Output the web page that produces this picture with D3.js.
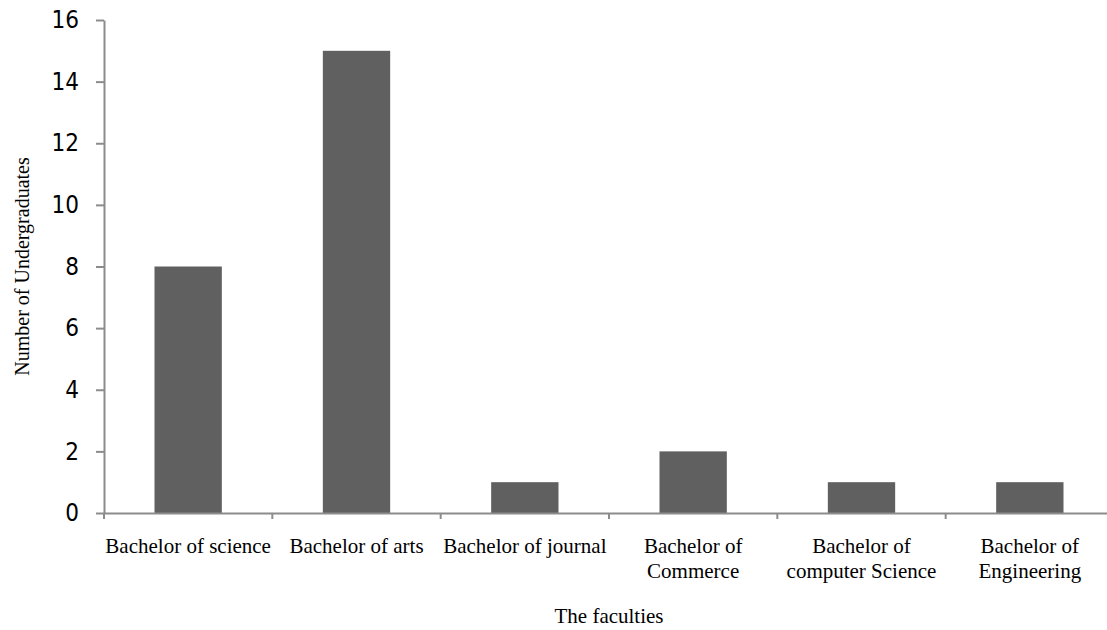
<!DOCTYPE html>
<html>
<head>
<meta charset="utf-8">
<script src="https://cdn.jsdelivr.net/npm/d3@7"></script>
<style>
  html, body { margin: 0; padding: 0; background: #fff; }
  svg { display: block; }
  .serif { font-family: "Liberation Serif", "Times New Roman", Times, serif; }
</style>
</head>
<body>
<svg id="chart" width="1107" height="630"></svg>
<script>
const categories = [
  ["Bachelor of science"],
  ["Bachelor of arts"],
  ["Bachelor of journal"],
  ["Bachelor of", "Commerce"],
  ["Bachelor of", "computer Science"],
  ["Bachelor of", "Engineering"]
];
const values = [8, 15, 1, 2, 1, 1];
const yTicks = [0, 2, 4, 6, 8, 10, 12, 14, 16];
const xTitle = "The faculties";
const yTitle = "Number of Undergraduates";

const svg = d3.select("#chart");
const mLeft = 104, mRight = 1114, mTop = 20, mBottom = 513;

const x = d3.scaleBand()
  .domain(d3.range(categories.length))
  .range([mLeft, mRight])
  .padding(0);
const y = d3.scaleLinear().domain([0, 16]).range([mBottom, mTop]);

const axisColor = "#8c8c8c";
const barW = x.bandwidth() * 0.4;

// bars
svg.append("g").selectAll("rect")
  .data(values)
  .join("rect")
  .attr("x", (d, i) => x(i) + (x.bandwidth() - barW) / 2)
  .attr("y", d => y(d))
  .attr("width", barW)
  .attr("height", d => y(0) - y(d))
  .attr("fill", "#606060");

// y axis
const yAxis = svg.append("g")
  .attr("transform", `translate(${mLeft},0)`)
  .call(d3.axisLeft(y).tickValues(yTicks).tickSize(8).tickPadding(17).tickSizeOuter(0));
yAxis.select(".domain").attr("stroke", axisColor).attr("stroke-width", 2);
yAxis.selectAll(".tick line").attr("stroke", axisColor).attr("stroke-width", 2);
yAxis.selectAll(".tick text")
  .style("font-family", "'DejaVu Sans Condensed', 'Liberation Sans', sans-serif")
  .style("font-size", "24px")
  .attr("fill", "#000");

// x axis
const xAxis = svg.append("g")
  .attr("transform", `translate(0,${mBottom})`)
  .call(d3.axisBottom(x).tickSize(0).tickFormat(""));
xAxis.select(".domain").attr("stroke", axisColor).attr("stroke-width", 2);
xAxis.selectAll(".tick").remove();

// x boundary ticks
const boundaries = d3.range(categories.length + 1).map(i => mLeft + i * x.step());
svg.append("g").selectAll("line")
  .data(boundaries)
  .join("line")
  .attr("x1", d => d).attr("x2", d => d)
  .attr("y1", mBottom).attr("y2", mBottom + 6)
  .attr("stroke", axisColor).attr("stroke-width", 2);

// x labels
const lbl = svg.append("g")
  .attr("class", "serif")
  .style("font-size", "21px")
  .attr("fill", "#000")
  .attr("text-anchor", "middle");
lbl.selectAll("text")
  .data(categories)
  .join("text")
  .attr("class", "serif")
  .attr("x", (d, i) => x(i) + x.bandwidth() / 2)
  .attr("y", 553)
  .each(function(d) {
    const t = d3.select(this);
    d.forEach((line, j) => {
      t.append("tspan")
        .attr("x", t.attr("x"))
        .attr("dy", j === 0 ? 0 : 25)
        .text(line);
    });
  });

// axis titles
svg.append("text")
  .attr("class", "serif")
  .attr("x", (mLeft + mRight) / 2)
  .attr("y", 623)
  .attr("text-anchor", "middle")
  .style("font-size", "21px")
  .text(xTitle);

svg.append("text")
  .attr("class", "serif")
  .attr("transform", `translate(29,${(mTop + mBottom) / 2}) rotate(-90)`)
  .attr("text-anchor", "middle")
  .style("font-size", "20px")
  .text(yTitle);
</script>
</body>
</html>
